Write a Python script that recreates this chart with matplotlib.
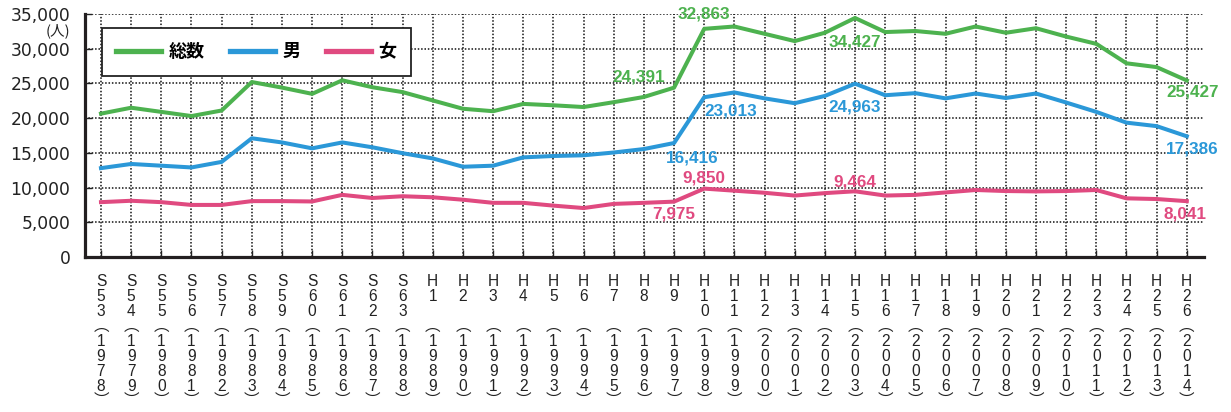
import numpy as np
import matplotlib.pyplot as plt
from matplotlib.ticker import FuncFormatter

# fiscal years (era notation) and western years
eras = ["S53", "S54", "S55", "S56", "S57", "S58", "S59", "S60", "S61", "S62", "S63",
        "H1", "H2", "H3", "H4", "H5", "H6", "H7", "H8", "H9", "H10", "H11", "H12",
        "H13", "H14", "H15", "H16", "H17", "H18", "H19", "H20", "H21", "H22", "H23",
        "H24", "H25", "H26"]
years = [1978, 1979, 1980, 1981, 1982, 1983, 1984, 1985, 1986, 1987, 1988,
         1989, 1990, 1991, 1992, 1993, 1994, 1995, 1996, 1997, 1998, 1999, 2000,
         2001, 2002, 2003, 2004, 2005, 2006, 2007, 2008, 2009, 2010, 2011,
         2012, 2013, 2014]

total = [20650, 21500, 20900, 20300, 21100, 25200, 24400, 23500, 25450, 24450, 23750,
         22550, 21350, 21000, 22050, 21850, 21600, 22300, 23050, 24391, 32863, 33200, 32150,
         31100, 32300, 34427, 32400, 32550, 32150, 33200, 32300, 32950, 31750, 30700,
         27900, 27350, 25427]
male = [12800, 13400, 13150, 12900, 13700, 17100, 16500, 15650, 16500, 15800, 14950,
        14200, 13000, 13150, 14350, 14550, 14650, 15050, 15550, 16416, 23013, 23700, 22850,
        22150, 23200, 24963, 23300, 23600, 22850, 23550, 22900, 23550, 22250, 20900,
        19350, 18850, 17386]
female = [7900, 8100, 7900, 7500, 7500, 8050, 8050, 8000, 8950, 8500, 8750,
          8600, 8250, 7800, 7800, 7400, 7050, 7650, 7800, 7975, 9850, 9550, 9250,
          8850, 9200, 9464, 8850, 8950, 9300, 9650, 9500, 9450, 9500, 9650,
          8450, 8350, 8041]

GREEN = "#4db24f"
BLUE = "#2b98d8"
PINK = "#e04a80"
INK = "#222222"

NUM_FONT = ["Liberation Sans", "DejaVu Sans"]
JP_FONT = ["Noto Sans CJK JP", "DejaVu Sans"]
TICK_FONT = ["Liberation Sans", "Noto Sans CJK JP", "DejaVu Sans"]

def vlabel(era, year):
    # stack characters vertically: era, then year in vertical parentheses
    chars = [era[0]] + list(era[1:].ljust(2)) + ["︵"] + list(str(year)) + ["︶"]
    return "\n".join(chars)

fig = plt.figure(figsize=(12.31, 4.12), dpi=100)
ax = fig.add_axes([85/1231, 1 - 257/412, (1204 - 85)/1231, (257 - 14)/412])

x = np.arange(len(eras))
ax.plot(x, total, color=GREEN, lw=2.9, label="総数", zorder=3, solid_joinstyle="round")
ax.plot(x, male, color=BLUE, lw=2.9, label="男", zorder=3, solid_joinstyle="round")
ax.plot(x, female, color=PINK, lw=2.9, label="女", zorder=3, solid_joinstyle="round")

ax.set_xlim(-0.53, 36.57)
ax.set_ylim(0, 35000)
ax.set_yticks(np.arange(0, 35001, 5000))
ax.yaxis.set_major_formatter(FuncFormatter(lambda v, p: "{:,}".format(int(v))))
ax.set_xticks(x)
ax.set_xticklabels([vlabel(e, y) for e, y in zip(eras, years)],
                   family=TICK_FONT, fontsize=11.2, linespacing=1.0, color=INK)
for t in ax.get_yticklabels():
    t.set_family(["DejaVu Sans"])
    t.set_fontsize(12.3)
    t.set_color(INK)

ax.grid(True, color="#111111", linestyle=(0, (1, 1.2)), lw=1.1, zorder=1)
ax.tick_params(axis="both", direction="in", length=5, width=1, color=INK)
ax.tick_params(axis="x", pad=12)
ax.tick_params(axis="y", pad=10.5)
for side in ["top", "right"]:
    ax.spines[side].set_visible(False)
for side in ["left", "bottom"]:
    ax.spines[side].set_linewidth(2.3)
    ax.spines[side].set_color("#231f20")

# unit label under the top tick
ax.annotate("(人)", xy=(0, 35000), xycoords=("axes fraction", "data"),
            xytext=(-10.5, -12), textcoords="offset points",
            ha="right", va="center", fontsize=10.5, family=JP_FONT, color=INK)

# value labels: (series, index, color, dx, dy, ha)
notes = [
    (total, 19, GREEN, -6.5, 8, "right"),
    (total, 20, GREEN, 0, 10.5, "center"),
    (total, 25, GREEN, 0, -17, "center"),
    (total, 36, GREEN, 4.5, -8.5, "center"),
    (male, 19, BLUE, 12.7, -11, "center"),
    (male, 20, BLUE, 0, -9.7, "left"),
    (male, 25, BLUE, 0, -17, "center"),
    (male, 36, BLUE, 3.6, -9.4, "center"),
    (female, 19, PINK, 0, -9, "center"),
    (female, 20, PINK, 0, 8, "center"),
    (female, 25, PINK, 0, 7, "center"),
    (female, 36, PINK, -1.4, -9.2, "center"),
]
for series, i, col, dx, dy, ha in notes:
    ax.annotate("{:,}".format(series[i]), xy=(x[i], series[i]), xytext=(dx, dy),
                textcoords="offset points", ha=ha, va="center", fontsize=12.3,
                fontweight="bold", family=NUM_FONT, color=col, zorder=5)

# legend box stretched to a fixed width at the upper left
leg = ax.legend(ncol=3, loc="upper left", mode="expand", borderaxespad=0,
                bbox_to_anchor=(0.0149, 0.9436 - 0.171, 0.2761, 0.171),
                prop={"family": JP_FONT, "size": 13, "weight": "bold"},
                handlelength=2.5, handletextpad=0.4, columnspacing=1.1,
                borderpad=0.8, fancybox=False, framealpha=1, edgecolor=INK)
leg.get_frame().set_linewidth(1.3)
leg.set_zorder(6)
for ln in leg.get_lines():
    ln.set_linewidth(3.8)

fig.savefig("out.png", dpi=100)
